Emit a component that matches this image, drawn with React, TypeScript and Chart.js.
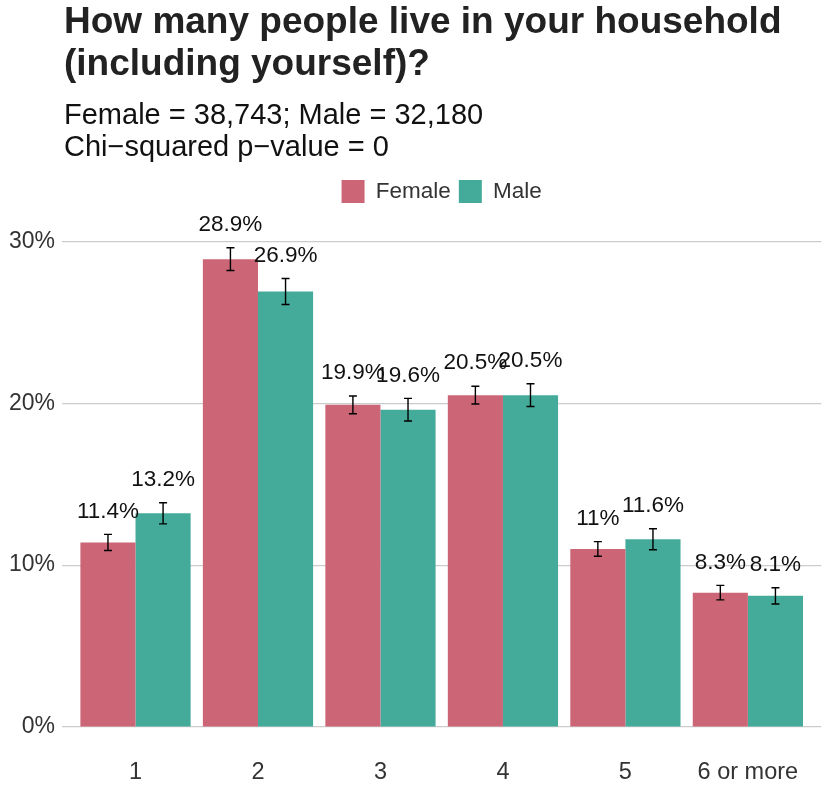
import { useEffect, useRef } from "react";
import { Chart, registerables } from "chart.js";
Chart.register(...registerables);

// categories and values (percent)
const categories = ["1", "2", "3", "4", "5", "6 or more"];
const femaleValues = [11.4, 28.9, 19.9, 20.5, 11.0, 8.3];
const maleValues = [13.2, 26.9, 19.6, 20.5, 11.6, 8.1];
// half-width of the error bars (percent points)
const femaleErr = [0.5, 0.7, 0.55, 0.55, 0.45, 0.45];
const maleErr = [0.65, 0.8, 0.7, 0.7, 0.65, 0.5];
const yTicks = [0, 10, 20, 30];

const FONT = "'Liberation Sans', Arial, sans-serif";
const errors = [femaleErr, maleErr];

// draws the error bars and the value labels above each bar
const errorBarPlugin = {
  id: "errorBars",
  afterDatasetsDraw(chart: any) {
    const ctx = chart.ctx;
    const yScale = chart.scales.y;
    ctx.save();
    chart.data.datasets.forEach((ds: any, di: number) => {
      const meta = chart.getDatasetMeta(di);
      meta.data.forEach((bar: any, i: number) => {
        const v = ds.data[i].y;
        const e = errors[di][i];
        const top = yScale.getPixelForValue(v + e);
        const bottom = yScale.getPixelForValue(v - e);
        const x = bar.x;
        ctx.strokeStyle = "#000";
        ctx.lineWidth = 1.4;
        ctx.beginPath();
        ctx.moveTo(x, top);
        ctx.lineTo(x, bottom);
        ctx.moveTo(x - 4, top);
        ctx.lineTo(x + 4, top);
        ctx.moveTo(x - 4, bottom);
        ctx.lineTo(x + 4, bottom);
        ctx.stroke();
        ctx.fillStyle = "#111";
        ctx.font = `22.5px ${FONT}`;
        ctx.textAlign = "center";
        ctx.textBaseline = "middle";
        ctx.fillText(`${v}%`, x, top - 23);
      });
    });
    ctx.restore();
  },
};

export default function App() {
  const canvasRef = useRef<HTMLCanvasElement | null>(null);
  const chartRef = useRef<Chart | null>(null);

  useEffect(() => {
    if (!canvasRef.current) return;
    chartRef.current = new Chart(canvasRef.current, {
      type: "bar",
      data: {
        datasets: [
          {
            label: "Female",
            data: femaleValues.map((v, i) => ({ x: i + 1, y: v })),
            backgroundColor: "#CC6677",
            borderWidth: 0,
          },
          {
            label: "Male",
            data: maleValues.map((v, i) => ({ x: i + 1, y: v })),
            backgroundColor: "#44AA99",
            borderWidth: 0,
          },
        ],
      },
      options: {
        responsive: false,
        animation: false,
        layout: { padding: { top: 172, left: 2, right: 0, bottom: 0 } },
        datasets: {
          bar: { categoryPercentage: 0.9, barPercentage: 1.0 },
        },
        plugins: {
          legend: {
            position: "top",
            fullSize: false,
            labels: {
              boxWidth: 23,
              boxHeight: 23,
              padding: 8,
              color: "#333",
              font: { family: FONT, size: 22.5 },
            },
          },
          tooltip: { enabled: false },
        },
        scales: {
          x: {
            type: "linear",
            offset: false,
            min: 0.4,
            max: 6.6,
            grid: { display: false, drawTicks: false },
            border: { display: false },
            afterBuildTicks: (scale: any) => {
              scale.ticks = categories.map((_, i) => ({ value: i + 1 }));
            },
            afterFit: (scale: any) => {
              scale.height = 78;
            },
            ticks: {
              padding: 31,
              color: "#333",
              font: { family: FONT, size: 23.5 },
              autoSkip: false,
              maxRotation: 0,
              callback: (v: any) => categories[Number(v) - 1] ?? "",
            },
          },
          y: {
            min: 0,
            max: 31.75,
            grid: { color: "#cccccc", lineWidth: 1.2, drawTicks: false },
            border: { display: false },
            afterBuildTicks: (scale: any) => {
              scale.ticks = yTicks.map((v) => ({ value: v }));
            },
            ticks: {
              padding: 7,
              color: "#333",
              font: { family: FONT, size: 23 },
              callback: (v: any) => `${v}%`,
            },
          },
        },
      },
      plugins: [errorBarPlugin],
    });
    return () => {
      chartRef.current?.destroy();
    };
  }, []);

  return (
    <div
      style={{
        position: "absolute",
        left: 0,
        top: 0,
        width: 830,
        height: 805,
        background: "#fff",
        fontFamily: FONT,
      }}
    >
      <canvas
        ref={canvasRef}
        width={830}
        height={805}
        style={{ position: "absolute", left: 0, top: 0 }}
      />
      <div
        style={{
          position: "absolute",
          left: 64,
          top: 0,
          fontSize: 37,
          fontWeight: "bold",
          lineHeight: "42px",
          color: "#222",
          whiteSpace: "nowrap",
        }}
      >
        How many people live in your household
        <br />
        (including yourself)?
      </div>
      <div
        style={{
          position: "absolute",
          left: 64,
          top: 98,
          fontSize: 29,
          lineHeight: "32px",
          color: "#111",
          whiteSpace: "nowrap",
        }}
      >
        Female = 38,743; Male = 32,180
        <br />
        Chi−squared p−value = 0
      </div>
    </div>
  );
}
